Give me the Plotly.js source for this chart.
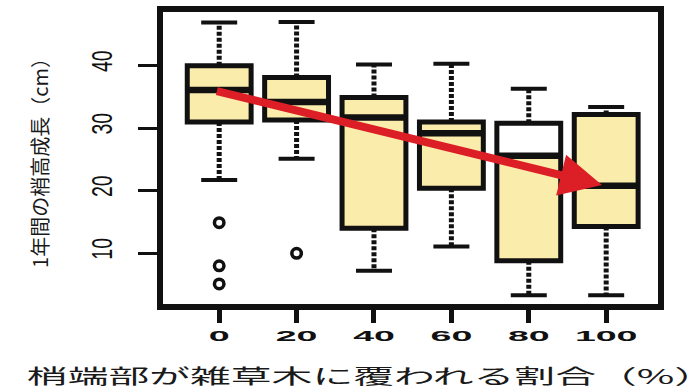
<!DOCTYPE html>
<html>
<head>
<meta charset="utf-8">
<script src="https://cdn.plot.ly/plotly-3.0.1.min.js"></script>
<style>
  html, body { margin: 0; padding: 0; background: #ffffff; }
  #chart { width: 697px; height: 390px; }
</style>
</head>
<body>
<div id="chart"></div>
<script>
// Percentage of the leader shoot covered by weeds (categories on the x axis)
const coverPct = [0, 20, 40, 60, 80, 100];
const tickLabels = ['0', '20', '40', '60', '80', '100'];

// Annual height growth (cm): box statistics per category
const lowerWhisker = [21.7, 25.1, 7.2, 11.1, 3.3, 3.3];
const q1 = [31.0, 31.3, 14.0, 20.4, 8.8, 14.3];
const median = [36.1, 34.2, 31.7, 29.2, 25.6, 20.8];
const q3 = [40.0, 38.1, 34.9, 31.0, 30.8, 32.2];
const upperWhisker = [46.9, 47.0, 40.2, 40.3, 36.3, 33.4];

// Outlying observations
const outlierX = [0, 0, 0, 20];
const outlierY = [14.9, 8.0, 5.1, 10.0];

// Trend arrow: from the 0% median down to the 100% median
const trendFrom = { x: -1.0, y: 36.0 };
const trendTo = { x: 98.9, y: 20.9 };

const yTickVals = [10, 20, 30, 40];

// Styling
const BOX_W = 16.5;      // box width in x-axis units
const CAP_W = 9.3;       // whisker cap width in x-axis units
const FILL = '#faecaa';
const INK = '#111111';

// One box (index 4) has an unfilled upper half; split the categories
const idxMain = coverPct.map((_, i) => i).filter(i => i !== 4);
const idxOpen = [4];
const pick = (arr, idx) => idx.map(i => arr[i]);

function boxTrace(idx, fill) {
  return {
    type: 'box',
    x: pick(coverPct, idx),
    q1: pick(q1, idx),
    median: pick(median, idx),
    q3: pick(q3, idx),
    lowerfence: pick(q1, idx),
    upperfence: pick(q3, idx),
    width: BOX_W,
    fillcolor: fill,
    line: { color: INK, width: 5 },
    boxpoints: false,
    whiskerwidth: 0,
    hoverinfo: 'skip',
    showlegend: false
  };
}

function segments(xsFn, ysFn) {
  const xs = [], ys = [];
  coverPct.forEach((c, i) => {
    const [x0, x1] = xsFn(c, i);
    const [y0, y1] = ysFn(c, i);
    xs.push(x0, x1, null);
    ys.push(y0, y1, null);
  });
  return { xs, ys };
}

const upperWh = segments(c => [c, c], (c, i) => [q3[i], upperWhisker[i]]);
const lowerWh = segments(c => [c, c], (c, i) => [q1[i], lowerWhisker[i]]);
const upperCap = segments(c => [c - CAP_W / 2, c + CAP_W / 2], (c, i) => [upperWhisker[i], upperWhisker[i]]);
const lowerCap = segments(c => [c - CAP_W / 2, c + CAP_W / 2], (c, i) => [lowerWhisker[i], lowerWhisker[i]]);
const medLine = segments(c => [c - BOX_W / 2, c + BOX_W / 2], (c, i) => [median[i], median[i]]);

const lineTrace = (seg, width, dash) => ({
  type: 'scatter', mode: 'lines', x: seg.xs, y: seg.ys,
  line: { color: INK, width: width, dash: dash || 'solid' },
  hoverinfo: 'skip', showlegend: false, connectgaps: false
});

const data = [
  // lower half fill of the open box
  {
    type: 'bar',
    x: pick(coverPct, idxOpen),
    base: pick(q1, idxOpen),
    y: idxOpen.map(i => median[i] - q1[i]),
    width: BOX_W,
    marker: { color: FILL, line: { width: 0 } },
    hoverinfo: 'skip', showlegend: false
  },
  boxTrace(idxMain, FILL),
  boxTrace(idxOpen, 'rgba(255,255,255,0)'),
  lineTrace(upperWh, 5, '4px,2px'),
  lineTrace(lowerWh, 5, '4px,2px'),
  lineTrace(upperCap, 4),
  lineTrace(lowerCap, 4),
  lineTrace(medLine, 6.5),
  {
    type: 'scatter', mode: 'markers', x: outlierX, y: outlierY,
    marker: { symbol: 'circle-open', size: 9.5, color: INK, line: { width: 3.5, color: INK } },
    hoverinfo: 'skip', showlegend: false
  }
];

const layout = {
  width: 697,
  height: 390,
  margin: { l: 163, r: 39, t: 12, b: 86 },
  paper_bgcolor: '#ffffff',
  plot_bgcolor: '#ffffff',
  showlegend: false,
  xaxis: {
    range: [-14.52, 113.39],
    tickvals: coverPct,
    ticktext: tickLabels,
    showgrid: false,
    zeroline: false,
    showline: true,
    mirror: true,
    linewidth: 6,
    linecolor: INK,
    ticks: 'outside',
    ticklen: 13,
    tickwidth: 5,
    tickcolor: INK,
    tickfont: { family: 'Liberation Sans, Arial, sans-serif', size: 15, color: INK, weight: 'bold' },
    title: {
      text: '梢端部が雑草木に覆われる割合（%）',
      font: { family: 'Noto Sans CJK JP, sans-serif', size: 20, color: '#1a1a1a' },
      standoff: 33
    }
  },
  yaxis: {
    range: [1.89, 48.58],
    tickvals: yTickVals,
    ticktext: yTickVals.map(String),
    tickangle: -90,
    showgrid: false,
    zeroline: false,
    showline: true,
    mirror: true,
    linewidth: 6,
    linecolor: INK,
    ticks: 'outside',
    ticklen: 19,
    tickwidth: 3,
    tickcolor: INK,
    ticklabelstandoff: 14,
    tickfont: { family: 'Liberation Sans, Arial, sans-serif', size: 30, color: INK },
    title: {
      text: '1年間の梢高成長（cm）',
      font: { family: 'Noto Sans CJK JP, sans-serif', size: 20, color: '#1a1a1a' },
      standoff: 33
    }
  },
  annotations: [{
    x: trendTo.x, y: trendTo.y, xref: 'x', yref: 'y',
    ax: trendFrom.x, ay: trendFrom.y, axref: 'x', ayref: 'y',
    text: '', showarrow: true,
    arrowhead: 2, arrowsize: 1.05, arrowwidth: 8, arrowcolor: '#dc1f26'
  }]
};

// Widen text runs along their own direction
function stretchText(selector, factor) {
  document.querySelectorAll(selector).forEach(t => {
    const w = t.getComputedTextLength();
    if (w > 0) {
      t.setAttribute('textLength', (w * factor).toFixed(1));
      t.setAttribute('lengthAdjust', 'spacingAndGlyphs');
    }
  });
}

// Squeeze text along its reading direction only, about its anchor point
function squeezeText(selector, factor) {
  document.querySelectorAll(selector).forEach(t => {
    const x = parseFloat(t.getAttribute('x')) || 0;
    const tr = t.getAttribute('transform') || '';
    t.setAttribute('transform',
      `${tr} translate(${x},0) scale(${factor},1) translate(${-x},0)`);
  });
}

Plotly.newPlot('chart', data, layout, { staticPlot: true }).then(() => {
  stretchText('.xtick text', 2.5);
  squeezeText('.ytick text', 0.65);
  stretchText('.g-xtitle text', 2.04);
  const xt = document.querySelector('.g-xtitle text');
  if (xt) xt.setAttribute('x', (parseFloat(xt.getAttribute('x')) - 39.5).toFixed(1));
});
</script>
</body>
</html>
